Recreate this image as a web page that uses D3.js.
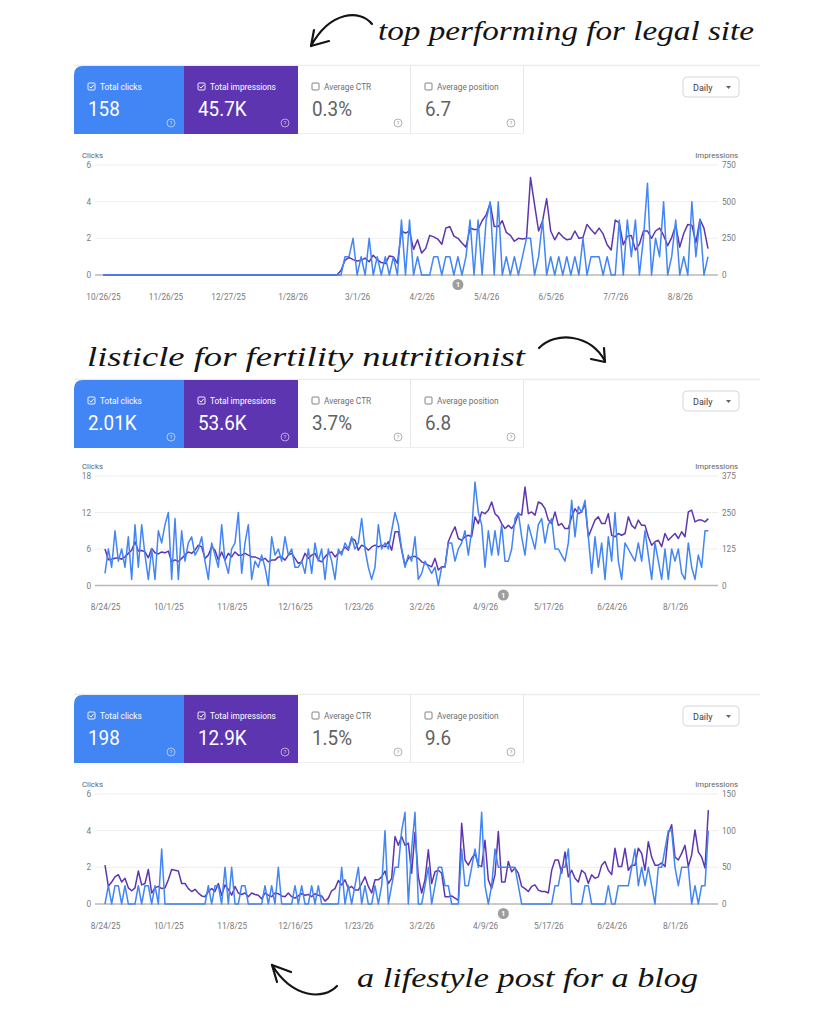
<!DOCTYPE html>
<html>
<head>
<meta charset="utf-8">
<script src="https://cdn.jsdelivr.net/npm/d3@7"></script>
<style>
  body { margin: 0; background: #fff; }
  svg { display: block; font-family: Roboto, "Noto Sans", sans-serif; }
</style>
</head>
<body>
<svg id="page" width="819" height="1024"></svg>
<script>
// Values (one point every 2 days)
const metricNames = ["Total clicks", "Total impressions", "Average CTR", "Average position"];

const legalTotals = ["158", "45.7K", "0.3%", "6.7"];
const fertilityTotals = ["2.01K", "53.6K", "3.7%", "6.8"];
const lifestyleTotals = ["198", "12.9K", "1.5%", "9.6"];

const legalNote = "top performing for legal site";
const fertilityNote = "listicle for fertility nutritionist";
const lifestyleNote = "a lifestyle post for a blog";

const legalRange = ["10/26/25", "8/23/26"];
const yearRange = ["8/24/25", "8/22/26"];
const annotationDate = "4/20/26";

const legalTickLabels = ["10/26/25", "11/26/25", "12/27/25", "1/28/26", "3/1/26", "4/2/26", "5/4/26", "6/5/26", "7/7/26", "8/8/26"];
const yearTickLabels = ["8/24/25", "10/1/25", "11/8/25", "12/16/25", "1/23/26", "3/2/26", "4/9/26", "5/17/26", "6/24/26", "8/1/26"];

const legalClickTicks = [0, 2, 4, 6];
const legalImpTicks = [0, 250, 500, 750];
const fertilityClickTicks = [0, 6, 12, 18];
const fertilityImpTicks = [0, 125, 250, 375];
const lifestyleClickTicks = [0, 2, 4, 6];
const lifestyleImpTicks = [0, 50, 100, 150];

const legalClicks = [
  0,0,0,0,0,0,0,0,0,0, 0,0,0,0,0,0,0,0,0,0, 0,0,0,0,0,0,0,0,0,0,
  0,0,0,0,0,0,0,0,0,0, 0,0,0,0,0,0,0,0,0,0, 0,0,0,0,0,0,0,0,
  0,0,1,1,2,0,1,0,2,0, 1,0,1,0,1,0,3,0,3,0, 1,0,0,0,1,1,0,1,1,0,
  1,0,1,3,0,3,0,3,4,0, 4,0,1,0,1,0,1,2,2,0, 1,3,0,1,0,1,0,1,0,1,
  0,2,0,1,1,1,0,1,0,0, 3,0,3,1,3,0,2,5,0,2, 1,4,0,1,3,0,1,0,4,1,
  3,0,1
];
const legalImpressions = [
  0,0,0,0,0,0,0,0,0,0, 0,0,0,0,0,0,0,0,0,0, 0,0,0,0,0,0,0,0,0,0,
  0,0,0,0,0,0,0,0,0,0, 0,0,0,0,0,0,0,0,0,0, 0,0,0,0,0,0,0,0,
  0,30,100,120,105,95,100,115,90,135, 105,85,78,130,125,80,300,285,300,175,
  240,150,180,270,260,245,210,320,330,265, 250,218,190,320,310,310,370,410,490,330,
  330,370,290,270,230,250,245,250,664,480, 300,370,520,300,240,290,260,240,245,300,
  250,255,345,310,280,320,280,206,170,375, 355,206,265,270,170,210,300,300,250,300,
  320,270,200,255,340,190,285,345,340,220, 380,320,180
];

const fertilityClicks = [
  2,6,3,9,4,6,3,8,1,10, 3,10,5,1,6,1,9,7,10,12, 1,11,1,9,4,7,8,5,6,8,
  4,1,7,5,3,10,4,2,6,7, 12,2,7,10,1,4,3,5,3,0, 8,5,6,4,8,5,6,3,3,4,
  2,6,2,7,4,6,1,6,4,1, 6,5,7,6,8,6,7,11,6,3, 1,3,10,6,7,6,9,12,10,6,
  3,
  5,4,8,1,2,4,3,2,3,0, 3,3,7,7,4,6,7,9,5,9, 17,12,10,3,9,5,9,5,10,4,
  4,6,11,12,8,5,10,8,6,10, 11,7,10,11,6,6,5,4,7,14, 8,13,12,14,8,2,8,3,7,1,
  8,4,12,4,1,7,6,5,4,7, 4,9,5,1,7,4,1,6,1,6, 4,6,2,1,7,3,1,5,3,9,
  9
];
const fertilityImpressions = [
  125,88,90,93,95,90,98,110,121,150, 118,120,115,95,127,112,108,115,112,118,
  81,88,82,93,104,115,110,121,138,132, 93,104,133,121,87,115,87,110,98,115,
  104,104,110,104,98,98,93,87,93,81, 87,87,98,98,87,104,110,93,76,81,
  110,93,104,110,87,81,98,110,115,98, 110,115,132,121,161,155,121,138,132,121,
  132,138,132,138,132,150,121,184,184,121, 70,
  93,98,100,93,81,76,70,64,93,53, 64,64,150,178,201,161,155,167,172,167,
  235,212,252,246,258,286,246,235,212,195, 206,195,212,246,241,337,246,252,241,286,
  280,263,224,212,252,206,212,195,195,235, 263,246,252,280,167,195,224,235,212,212,
  246,172,167,178,172,178,235,206,195,224, 206,206,167,138,150,155,133,178,155,167,
  178,161,184,167,252,258,218,224,224,218, 229
];

const lifestyleClicks = [
  0,1,0,1,1,0,1,0,0,0, 1,0,1,1,0,1,0,3,0,0, 0,0,0,0,0,0,0,0,0,0,
  0,1,0,1,1,0,2,0,2,0, 0,1,1,0,0,0,0,0,1,0, 1,0,2,0,0,0,0,1,0,1,
  0,0,1,0,1,0,0,0,0,0, 0,2,0,1,0,1,2,0,1,0, 0,1,0,1,4,0,1,2,2,4,
  5,0,3,5,0,0,1,2,0,1, 2,2,1,1,0,0,0,3,1,1, 2,3,2,5,1,0,1,3,2,2,
  2,2,2,2,1,0,0,0,0,0, 0,0,0,0,0,1,1,2,2,3, 0,0,0,0,1,1,0,0,0,0,
  0,1,0,0,1,1,1,1,2,3, 1,2,1,2,1,0,2,2,3,4, 4,2,1,2,2,2,0,1,0,1,
  1,4
];
const lifestyleImpressions = [
  53,24,30,37,40,30,35,22,18,22, 45,26,28,47,15,22,24,21,22,33,
  47,46,45,28,28,21,17,20,15,11, 10,17,21,17,28,12,26,20,12,24,
  15,13,15,10,15,13,12,7,15,12, 10,15,14,11,10,15,10,8,11,14,
  12,13,10,14,12,11,4,8,18,21, 32,26,33,21,24,19,19,28,37,24,
  15,33,33,37,45,28,35,92,80,92,
  80,83,42,98,37,15,33,74,28,44, 46,42,10,10,11,8,5,110,60,53,
  62,69,53,51,87,33,21,40,99,30, 30,58,44,49,42,24,21,17,24,26,
  19,17,17,15,46,60,60,42,71,37, 46,35,30,46,42,28,40,35,37,53,
  58,46,40,76,51,51,76,46,53,53, 76,69,46,85,64,53,53,56,51,96,
  108,64,60,69,80,51,67,101,71,64, 49,128
];

const parseDate = d3.timeParse("%m/%d/%y");
const formatDate = d3.timeFormat("%-m/%-d/%y");
const svg = d3.select("#page");

const BLUE = "#4285f4", PURPLE = "#5e35b1";
const cardEdges = [74, 184, 298, 411, 524];

function drawCards(g, top, totals) {
  const h = 68;
  g.append("line")
    .attr("x1", 74).attr("x2", 760).attr("y1", top - 0.5).attr("y2", top - 0.5)
    .attr("stroke", "#ececec").attr("stroke-width", 1.5);

  metricNames.forEach((name, i) => {
    const x0 = cardEdges[i], w = cardEdges[i + 1] - x0;
    const on = i < 2;
    const fill = i === 0 ? BLUE : i === 1 ? PURPLE : "#fff";
    if (i === 0) {
      g.append("path")
        .attr("d", `M${x0},${top + h} V${top + 9} Q${x0},${top} ${x0 + 9},${top} H${x0 + w} V${top + h} Z`)
        .attr("fill", fill);
    } else {
      g.append("rect").attr("x", x0).attr("y", top).attr("width", w).attr("height", h)
        .attr("fill", fill);
    }
    if (!on) {
      g.append("line").attr("x1", x0 + w - 0.5).attr("x2", x0 + w - 0.5)
        .attr("y1", top).attr("y2", top + h).attr("stroke", "#e6e6e6");
      g.append("line").attr("x1", x0).attr("x2", x0 + w)
        .attr("y1", top + h - 0.5).attr("y2", top + h - 0.5).attr("stroke", "#efefef");
    }
    const ink = on ? "#fff" : "#757575";
    const bx = x0 + 14, by = top + 17;
    g.append("rect").attr("x", bx).attr("y", by).attr("width", 7).attr("height", 7)
      .attr("rx", 1).attr("fill", "none").attr("stroke", ink).attr("stroke-width", 0.9);
    if (on) {
      g.append("path").attr("d", `M${bx + 1.5},${by + 3.6} L${bx + 3},${by + 5.1} L${bx + 5.7},${by + 2}`)
        .attr("fill", "none").attr("stroke", "#fff").attr("stroke-width", 1);
    }
    g.append("text").attr("x", x0 + 26).attr("y", top + 23.5)
      .attr("font-size", 8.3).attr("fill", on ? "#fff" : "#6f6f6f").text(name);
    g.append("text")
      .attr("transform", `translate(${x0 + 14},${top + 49.5}) scale(0.92,1)`)
      .attr("font-size", 20.5).attr("fill", on ? "#fff" : "#616161").text(totals[i]);
    const hx = x0 + w - 13, hy = top + 57;
    const hc = on ? "rgba(255,255,255,0.7)" : "#9e9e9e";
    g.append("circle").attr("cx", hx).attr("cy", hy).attr("r", 4)
      .attr("fill", "none").attr("stroke", hc).attr("stroke-width", 0.8);
    g.append("text").attr("x", hx).attr("y", hy + 2.2).attr("text-anchor", "middle")
      .attr("font-size", 6).attr("fill", hc).text("?");
  });

  // "Daily" drop-down
  const dx = 683, dy = top + 11;
  g.append("rect").attr("x", dx).attr("y", dy).attr("width", 56).attr("height", 20)
    .attr("rx", 4).attr("fill", "#fff").attr("stroke", "#d5d7db");
  g.append("text").attr("x", dx + 10).attr("y", dy + 13.5).attr("font-size", 9)
    .attr("fill", "#3c4043").text("Daily");
  g.append("path").attr("d", `M${dx + 43},${dy + 9} h5 l-2.5,3 Z`).attr("fill", "#5f6368");
}

function drawChart(g, cfg) {
  const start = parseDate(cfg.range[0]);
  const x = d3.scaleTime().domain([start, parseDate(cfg.range[1])]).range([cfg.x0, 710]);
  const yL = d3.scaleLinear().domain([0, d3.max(cfg.clickTicks)]).range([cfg.y0, cfg.yTop]);
  const yR = d3.scaleLinear().domain([0, d3.max(cfg.impTicks)]).range([cfg.y0, cfg.yTop]);

  g.append("text").attr("x", 82).attr("y", cfg.yTop - 7).attr("font-size", 7.8)
    .attr("fill", "#5f6368").text("Clicks");
  g.append("text").attr("x", 738).attr("y", cfg.yTop - 7).attr("font-size", 7.8)
    .attr("text-anchor", "end").attr("fill", "#5f6368").text("Impressions");

  g.selectAll(".grid").data(cfg.clickTicks).join("line")
    .attr("x1", 95).attr("x2", 718)
    .attr("y1", d => yL(d)).attr("y2", d => yL(d))
    .attr("stroke", d => d === 0 ? "#b8b8b8" : "#eeeeee")
    .attr("stroke-width", d => d === 0 ? 1.6 : 1);

  const styleAxis = a => {
    a.select(".domain").remove();
    a.attr("font-family", null).attr("font-size", 8.2);
    a.selectAll("text").attr("fill", "#7a7a7a");
  };
  g.append("g").attr("transform", "translate(91,0)")
    .call(d3.axisLeft(yL).tickValues(cfg.clickTicks).tickFormat(d3.format("d"))
      .tickSize(0).tickPadding(0))
    .call(styleAxis);
  g.append("g").attr("transform", "translate(722,0)")
    .call(d3.axisRight(yR).tickValues(cfg.impTicks).tickFormat(d3.format("d"))
      .tickSize(0).tickPadding(0))
    .call(styleAxis);
  g.append("g").attr("transform", `translate(0,${cfg.y0 + 19})`)
    .call(d3.axisBottom(x).tickValues(cfg.tickLabels.map(parseDate))
      .tickFormat(formatDate).tickSize(0).tickPadding(0))
    .call(styleAxis);

  const dated = arr => arr.map((v, i) => ({ date: d3.timeDay.offset(start, i * 2), v }));
  g.append("path").datum(dated(cfg.imps))
    .attr("fill", "none").attr("stroke", PURPLE).attr("stroke-width", 1.5)
    .attr("stroke-linejoin", "round")
    .attr("d", d3.line().x(d => x(d.date)).y(d => yR(d.v)));
  g.append("path").datum(dated(cfg.clicks))
    .attr("fill", "none").attr("stroke", BLUE).attr("stroke-width", 1.5)
    .attr("stroke-linejoin", "round")
    .attr("d", d3.line().x(d => x(d.date)).y(d => yL(d.v)));

  const mx = x(parseDate(annotationDate));
  g.append("circle").attr("cx", mx).attr("cy", cfg.y0 + 9.5).attr("r", 5.5).attr("fill", "#9e9e9e");
  g.append("text").attr("x", mx).attr("y", cfg.y0 + 12).attr("text-anchor", "middle")
    .attr("font-size", 7).attr("font-weight", "bold").attr("fill", "#fff").text("1");
}

function drawNote(text, x, y, len) {
  svg.append("text").attr("x", x).attr("y", y)
    .attr("textLength", len).attr("lengthAdjust", "spacingAndGlyphs")
    .attr("font-family", "'Liberation Serif', 'DejaVu Serif', serif")
    .attr("font-style", "italic").attr("font-size", 27).attr("fill", "#141414")
    .text(text);
}

function drawArrow(shaft, head) {
  const a = svg.append("g").attr("fill", "none").attr("stroke", "#141414")
    .attr("stroke-width", 2.2).attr("stroke-linecap", "round").attr("stroke-linejoin", "round");
  a.append("path").attr("d", shaft);
  a.append("path").attr("d", head);
}

// panel 1
const p1 = svg.append("g");
drawCards(p1, 66, legalTotals);
drawChart(p1, { range: legalRange, x0: 103, y0: 275, yTop: 165, clickTicks: legalClickTicks,
  impTicks: legalImpTicks, tickLabels: legalTickLabels, clicks: legalClicks, imps: legalImpressions });
drawNote(legalNote, 378, 40, 376);
drawArrow("M372,24 C360,9 330,11 311,46", "M314,30 L311,46 L329,41");

// panel 2
const p2 = svg.append("g");
drawCards(p2, 380, fertilityTotals);
drawChart(p2, { range: yearRange, x0: 105, y0: 585.5, yTop: 476, clickTicks: fertilityClickTicks,
  impTicks: fertilityImpTicks, tickLabels: yearTickLabels, clicks: fertilityClicks, imps: fertilityImpressions });
drawNote(fertilityNote, 87, 366, 438);
drawArrow("M539,348 C556,331 590,334 605,361", "M604,348 L605,362 L591,359");

// panel 3
const p3 = svg.append("g");
drawCards(p3, 695, lifestyleTotals);
drawChart(p3, { range: yearRange, x0: 105, y0: 904, yTop: 794, clickTicks: lifestyleClickTicks,
  impTicks: lifestyleImpTicks, tickLabels: yearTickLabels, clicks: lifestyleClicks, imps: lifestyleImpressions });
drawNote(lifestyleNote, 357, 987, 341);
drawArrow("M337,986 C324,1000 293,999 272,965", "M291,972 L272,965 L277,982");
</script>
</body>
</html>
